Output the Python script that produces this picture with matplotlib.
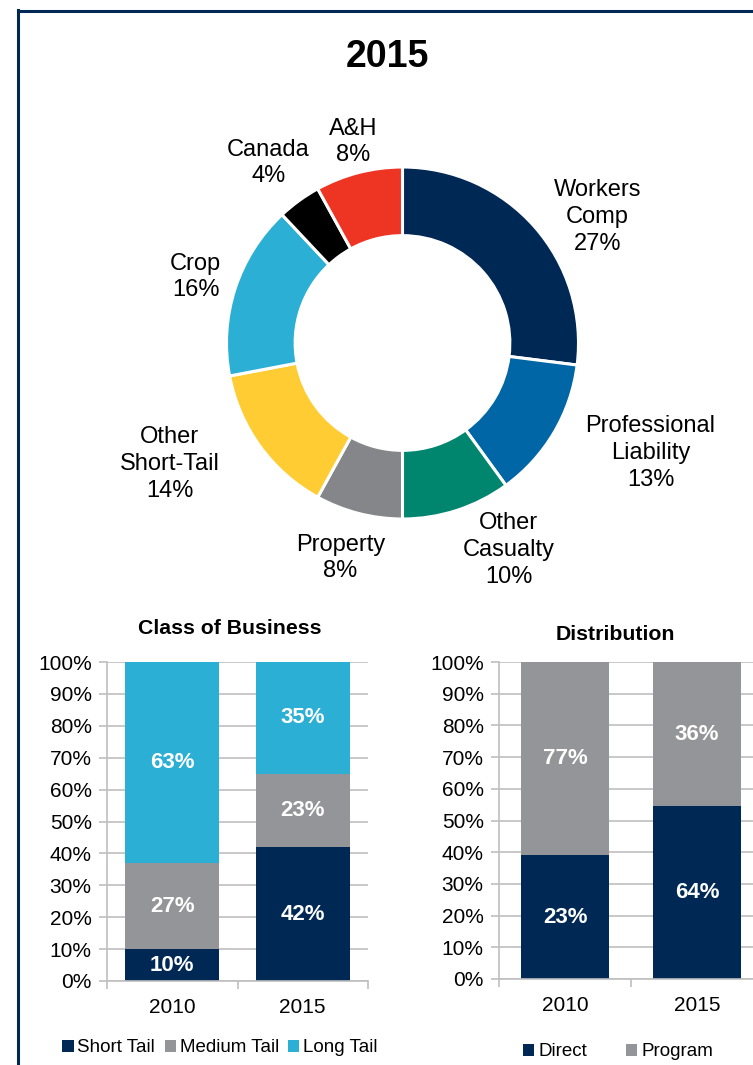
import matplotlib
matplotlib.use("Agg")
import matplotlib.pyplot as plt
from matplotlib.lines import Line2D
import numpy as np

plt.rcParams['font.family'] = ['Liberation Sans', 'DejaVu Sans']

# ---------------- data ----------------
donut_title = "2015"
donut_labels = ["Workers\nComp", "Professional\nLiability", "Other\nCasualty", "Property",
                "Other\nShort-Tail", "Crop", "Canada", "A&H"]
donut_values = [27, 13, 10, 8, 14, 16, 4, 8]
donut_colors = ["#002855", "#0066A6", "#00856F", "#858689", "#FFCD33", "#2BAFD5", "#000000", "#EE3524"]
# label centres in units of the outer radius
donut_label_pos = [(1.108, 0.716), (1.409, -0.625), (0.602, -1.176), (-0.352, -1.222),
                   (-1.324, -0.688), (-1.176, 0.375), (-0.761, 1.023), (-0.278, 1.142)]

years = ["2010", "2015"]
cob_series = ["Short Tail", "Medium Tail", "Long Tail"]
cob_short = [10, 42]
cob_medium = [27, 23]
cob_long = [63, 35]
cob_colors = ["#002855", "#939598", "#2BAFD5"]

dist_series = ["Direct", "Program"]
dist_direct_height = [39, 54.5]     # bar heights as drawn
dist_direct_label = ["23%", "64%"]  # printed labels
dist_program_label = ["77%", "36%"]
dist_colors = ["#002855", "#939598"]

yticks = [0, 10, 20, 30, 40, 50, 60, 70, 80, 90, 100]

# ---------------- figure ----------------
W, H = 753, 1065
fig = plt.figure(figsize=(W / 100, H / 100), dpi=100)

def fx(px):
    return px / W

def fy(py):
    return 1 - py / H

navy = "#002855"
# border (top and left)
fig.add_artist(Line2D([fx(17.5), fx(753)], [fy(11), fy(11)], color=navy, lw=2.2, transform=fig.transFigure))
fig.add_artist(Line2D([fx(17.5), fx(17.5)], [fy(10), fy(1065)], color=navy, lw=2.2, transform=fig.transFigure))

fig.text(fx(387), fy(57), donut_title, ha="center", va="center", fontsize=27, fontweight="bold")

# donut
R_px = 176
cx, cy = 402.5, 343
L = 1.8
size = 2 * L * R_px
ax = fig.add_axes([fx(cx - size / 2), fy(cy + size / 2), size / W, size / H])
ax.pie(donut_values, colors=donut_colors, startangle=90, counterclock=False, radius=1,
       wedgeprops=dict(width=0.39, edgecolor="white", linewidth=2.2))
ax.set_xlim(-L, L)
ax.set_ylim(-L, L)
ax.set_aspect("equal")
ax.axis("off")
for lab, val, (lx, ly) in zip(donut_labels, donut_values, donut_label_pos):
    ax.text(lx, ly, f"{lab}\n{val}%", ha="center", va="center", fontsize=17, linespacing=1.28)

grid_c = "#BFBFBF"

def style_bar_axes(a):
    a.set_ylim(0, 100)
    a.set_xlim(-0.5, 1.5)
    a.set_yticks(yticks)
    a.set_yticklabels([f"{t}%" for t in yticks], fontsize=15)
    a.yaxis.grid(True, color=grid_c, lw=1.2)
    a.set_axisbelow(True)
    for s in ["top", "right"]:
        a.spines[s].set_visible(False)
    a.spines["left"].set_color(grid_c)
    a.spines["bottom"].set_color(grid_c)
    a.spines["left"].set_linewidth(1.2)
    a.spines["bottom"].set_linewidth(1.2)
    a.tick_params(axis="y", length=6, color=grid_c, width=1.2, pad=5)
    a.set_xticks([-0.5, 0.5, 1.5])
    a.set_xticklabels([])
    a.set_xticks([0, 1], minor=True)
    a.set_xticklabels(years, minor=True, fontsize=15)
    a.tick_params(axis="x", which="major", length=6, color=grid_c, width=1.2, direction="out")
    a.tick_params(axis="x", which="minor", length=6, color=grid_c, width=1.2, direction="in", pad=12)

bold_kw = dict(ha="center", va="center", color="white", fontsize=16, fontweight="bold")

# Class of Business
ax1 = fig.add_axes([fx(107), fy(981), fx(368) - fx(107), (981 - 662) / H])
x = np.arange(len(years))
bw1 = 0.72
b1 = ax1.bar(x, cob_short, bw1, color=cob_colors[0], label=cob_series[0])
b2 = ax1.bar(x, cob_medium, bw1, bottom=cob_short, color=cob_colors[1], label=cob_series[1])
bottom2 = [a + b for a, b in zip(cob_short, cob_medium)]
b3 = ax1.bar(x, cob_long, bw1, bottom=bottom2, color=cob_colors[2], label=cob_series[2])
style_bar_axes(ax1)
for i in range(len(years)):
    ax1.text(x[i], cob_short[i] / 2, f"{cob_short[i]}%", **bold_kw)
    ax1.text(x[i], cob_short[i] + cob_medium[i] / 2, f"{cob_medium[i]}%", **bold_kw)
    ax1.text(x[i], bottom2[i] + cob_long[i] / 2, f"{cob_long[i]}%", **bold_kw)
fig.text(fx(230), fy(629), "Class of Business", ha="center", va="center", fontsize=15.3, fontweight="bold")
fig.legend(handles=[b1, b2, b3], labels=cob_series, loc="center", bbox_to_anchor=(fx(220), fy(1048)),
           ncol=3, frameon=False, fontsize=13.5, handlelength=0.6, handleheight=0.6,
           handletextpad=0.2, columnspacing=0.5, borderpad=0)

# Distribution
ax2 = fig.add_axes([fx(499), fy(979), (763 - 499) / W, (979 - 662) / H])
bw2 = 0.66
prog_height = [100 - d for d in dist_direct_height]
d1 = ax2.bar(x, dist_direct_height, bw2, color=dist_colors[0], label=dist_series[0])
d2 = ax2.bar(x, prog_height, bw2, bottom=dist_direct_height, color=dist_colors[1], label=dist_series[1])
style_bar_axes(ax2)
for i in range(len(years)):
    ax2.text(x[i], dist_direct_height[i] / 2, dist_direct_label[i], **bold_kw)
    ax2.text(x[i], dist_direct_height[i] + prog_height[i] / 2, dist_program_label[i], **bold_kw)
fig.text(fx(615), fy(635), "Distribution", ha="center", va="center", fontsize=15.3, fontweight="bold")
fig.legend(handles=[d1, d2], labels=dist_series, loc="center", bbox_to_anchor=(fx(618), fy(1052)),
           ncol=2, frameon=False, fontsize=13.5, handlelength=0.6, handleheight=0.6,
           handletextpad=0.2, columnspacing=2.1, borderpad=0)

fig.savefig("out.png", dpi=100)
